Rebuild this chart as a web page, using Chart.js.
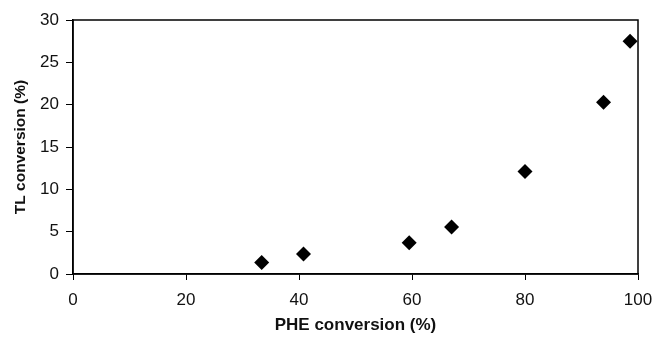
<!DOCTYPE html>
<html>
<head>
<meta charset="utf-8">
<script src="https://cdn.jsdelivr.net/npm/chart.js@4"></script>
<style>
  html, body { margin: 0; padding: 0; background: #fff; }
  #wrap { width: 654px; height: 344px; }
</style>
</head>
<body>
<div id="wrap"><canvas id="chart" width="654" height="344"></canvas></div>
<script>
// data
const pheConversion = [33.4, 40.8, 59.5, 67.0, 80.0, 93.9, 98.6]
const tlConversion = [1.35, 2.35, 3.7, 5.55, 12.1, 20.3, 27.5]
const xTicks = [0, 20, 40, 60, 80, 100]
const yTicks = [0, 5, 10, 15, 20, 25, 30]

const points = pheConversion.map((x, i) => ({ x: x, y: tlConversion[i] }))

// frame around the plot area (top and right sides)
const frame = {
  id: "frame",
  afterDraw(chart) {
    const a = chart.chartArea
    const ctx = chart.ctx
    ctx.save()
    ctx.strokeStyle = "#000"
    ctx.lineWidth = 1.5
    ctx.strokeRect(a.left, a.top, a.right - a.left, a.bottom - a.top)
    ctx.restore()
  },
}

const ctx = document.getElementById("chart").getContext("2d")
new Chart(ctx, {
  type: "scatter",
  data: {
    datasets: [
      {
        data: points,
        pointStyle: "rectRot",
        pointRadius: 7.5,
        pointHoverRadius: 7.5,
        backgroundColor: "#000",
        borderColor: "#000",
        borderWidth: 0,
      },
    ],
  },
  plugins: [frame],
  options: {
    responsive: false,
    animation: false,
    layout: { padding: { top: 20, right: 16, left: 0, bottom: 0 } },
    plugins: { legend: { display: false }, tooltip: { enabled: false } },
    scales: {
      x: {
        type: "linear",
        min: 0,
        max: 100,
        afterBuildTicks: (scale) => { scale.ticks = xTicks.map((v) => ({ value: v })) },
        afterFit: (scale) => {
          scale.height = 70
          // let the "100" label run past the plot edge like the original
          scale.paddingRight = 0
          scale.paddingLeft = 0
        },
        grid: { display: true, drawOnChartArea: false, drawTicks: true, tickLength: 6, tickColor: "#000", tickWidth: 1 },
        border: { display: true, color: "#000", width: 1.5 },
        ticks: { color: "#111", padding: 10, font: { family: "Liberation Sans", size: 17 } },
        title: {
          display: true,
          text: "PHE conversion (%)",
          color: "#111",
          padding: { top: 0, bottom: 8 },
          font: { family: "Liberation Sans", size: 17, weight: "bold" },
        },
      },
      y: {
        type: "linear",
        min: 0,
        max: 30,
        afterBuildTicks: (scale) => { scale.ticks = yTicks.map((v) => ({ value: v })) },
        afterFit: (scale) => { scale.width = 73 },
        grid: { display: true, drawOnChartArea: false, drawTicks: true, tickLength: 7, tickColor: "#000", tickWidth: 1 },
        border: { display: true, color: "#000", width: 1.5 },
        ticks: { color: "#111", padding: 7, font: { family: "Liberation Sans", size: 17 } },
        title: {
          display: true,
          text: "TL conversion (%)",
          color: "#111",
          padding: { top: 11, bottom: 0 },
          font: { family: "Liberation Sans", size: 15.5, weight: "bold" },
        },
      },
    },
  },
})
</script>
</body>
</html>
